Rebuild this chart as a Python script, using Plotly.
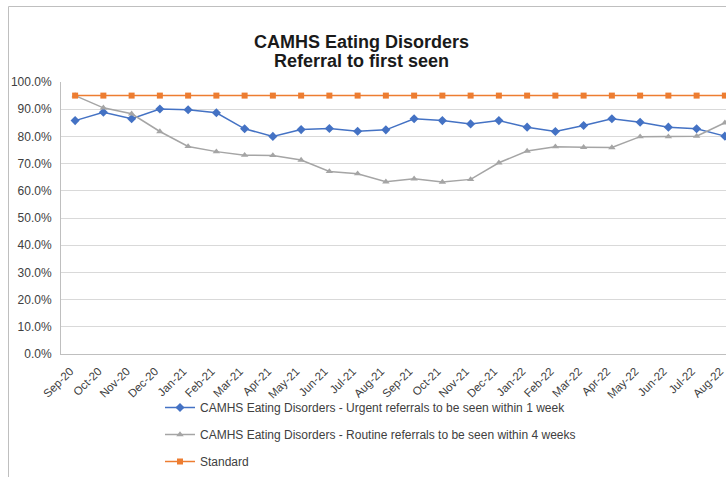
import plotly.graph_objects as go

months = ["Sep-20", "Oct-20", "Nov-20", "Dec-20", "Jan-21", "Feb-21", "Mar-21", "Apr-21",
          "May-21", "Jun-21", "Jul-21", "Aug-21", "Sep-21", "Oct-21", "Nov-21", "Dec-21",
          "Jan-22", "Feb-22", "Mar-22", "Apr-22", "May-22", "Jun-22", "Jul-22", "Aug-22"]

urgent = [85.8, 88.9, 86.5, 90.1, 89.8, 88.7, 82.8, 80.0, 82.5, 82.9, 81.9, 82.4,
          86.5, 85.8, 84.6, 85.8, 83.4, 81.8, 84.0, 86.5, 85.2, 83.4, 82.8, 80.1]

routine = [95.0, 90.5, 88.3, 81.8, 76.3, 74.4, 73.1, 73.0, 71.3, 67.1, 66.3, 63.3,
           64.4, 63.2, 64.2, 70.3, 74.6, 76.2, 76.0, 75.9, 79.9, 79.9, 80.1, 85.0]

standard = [95.0] * 24

names = ["CAMHS Eating Disorders - Urgent referrals to be seen within 1 week",
         "CAMHS Eating Disorders - Routine referrals to be seen within 4 weeks",
         "Standard"]

y_ticks = list(range(0, 101, 10))
y_tick_text = [f"{v:.1f}%" for v in y_ticks]

FONT = "Liberation Sans, Arial, sans-serif"

# plot area in pixels: left 61, right 726, top 82, bottom 354
PL, PR, PT, PB = 61, 726, 82, 354


def px_x(px):
    return (px - PL) / (PR - PL)


def px_y(py):
    return (PB - py) / (PB - PT)


fig = go.Figure()
fig.add_trace(go.Scatter(x=months, y=urgent, name=names[0], mode="lines+markers",
                         legendgroup="a",
                         line=dict(color="#4472C4", width=1.5),
                         marker=dict(symbol="diamond", size=7, color="#4472C4")))
fig.add_trace(go.Scatter(x=months, y=routine, name=names[1], mode="lines+markers",
                         legendgroup="b",
                         line=dict(color="#A5A5A5", width=1.5),
                         marker=dict(symbol="triangle-up", size=6.5, color="#A5A5A5")))
fig.add_trace(go.Scatter(x=months, y=standard, name=names[2], mode="lines+markers",
                         legendgroup="c",
                         line=dict(color="#ED7D31", width=1.5),
                         marker=dict(symbol="square", size=6, color="#ED7D31")))

fig.update_layout(
    width=726, height=477,
    margin=dict(l=PL, r=726 - PR, t=PT, b=477 - PB, autoexpand=False),
    paper_bgcolor="white", plot_bgcolor="white",
    font=dict(family=FONT, color="#404040", size=12),
    showlegend=True,
    legend=dict(xref="container", yref="container", x=160 / 726, y=1 - 393 / 477,
                xanchor="left", yanchor="top", tracegroupgap=8,
                font=dict(size=12, color="#404040"), bgcolor="rgba(0,0,0,0)"),
    xaxis=dict(type="category", range=[-0.5, 23.04], showgrid=False,
               showline=True, linecolor="#BFBFBF", linewidth=1,
               tickangle=-45, tickfont=dict(size=11.5, color="#404040"), ticks="",
               ticklabelshift=-5, ticklabelstandoff=5),
    yaxis=dict(range=[0, 100], tickvals=y_ticks, ticktext=y_tick_text,
               showgrid=True, gridcolor="#D9D9D9", gridwidth=1,
               showline=True, linecolor="#BFBFBF", linewidth=1, zeroline=False,
               ticks="", ticklabelstandoff=6,
               tickfont=dict(size=12, color="#404040")),
    annotations=[
        dict(text="<b>CAMHS Eating Disorders</b>", xref="paper", yref="paper",
             x=px_x(361), y=px_y(42.5), xanchor="center", yanchor="middle",
             showarrow=False, font=dict(size=18, color="#1a1a1a", family=FONT)),
        dict(text="<b>Referral to first seen</b>", xref="paper", yref="paper",
             x=px_x(361), y=px_y(61), xanchor="center", yanchor="middle",
             showarrow=False, font=dict(size=18, color="#1a1a1a", family=FONT)),
    ],
    shapes=[
        dict(type="line", xref="paper", yref="paper",
             x0=px_x(8.5), x1=px_x(8.5), y0=px_y(6.5), y1=px_y(480),
             line=dict(color="#BFBFBF", width=1)),
        dict(type="line", xref="paper", yref="paper",
             x0=px_x(8.5), x1=px_x(730), y0=px_y(6.5), y1=px_y(6.5),
             line=dict(color="#BFBFBF", width=1)),
    ],
)

fig.write_html("out.html",
               config={"displayModeBar": False},
               post_script="document.body.style.margin='0';document.body.style.overflow='hidden';")
